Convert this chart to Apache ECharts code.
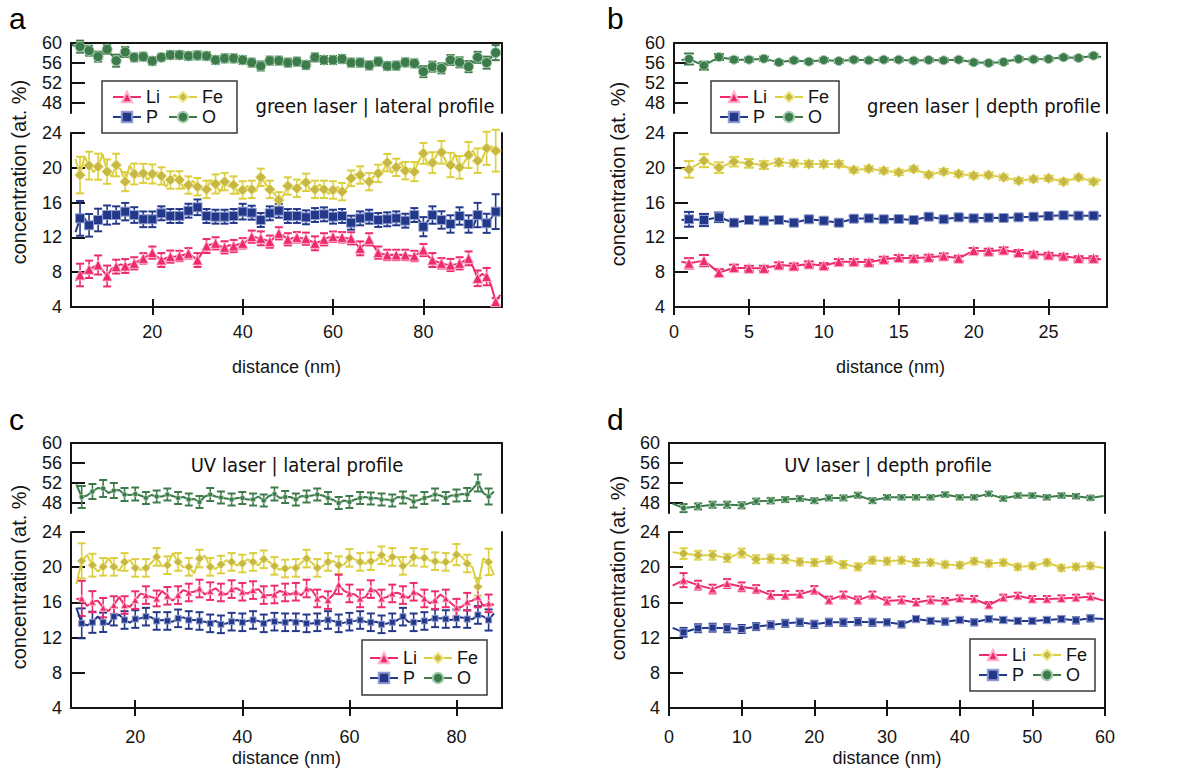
<!DOCTYPE html>
<html><head><meta charset="utf-8">
<script src="https://cdn.jsdelivr.net/npm/echarts@6/dist/echarts.min.js"></script>
<style>html,body{margin:0;padding:0;background:#fff}#c{width:1189px;height:768px}</style>
</head><body><div id="c"></div>
<script>
// ---------------- DATA ----------------
// tick labels
const yTopTicks = [48, 52, 56, 60];
const yBotTicks = [4, 8, 12, 16, 20, 24];
const aXTicks = [20, 40, 60, 80];
const bXTicks = [0, 5, 10, 15, 20, 25];
const cXTicks = [20, 40, 60, 80];
const dXTicks = [0, 10, 20, 30, 40, 50, 60];

// Panel a: green laser | lateral profile (markers every 2 nm)
const aX = [4,6,8,10,12,14,16,18,20,22,24,26,28,30,32,34,36,38,40,42,44,46,48,50,52,54,56,58,60,62,64,66,68,70,72,74,76,78,80,82,84,86,88,90,92,94,96];
const aLi = [7.68,8.33,8.83,7.56,8.64,8.71,9.02,9.59,10.25,9.40,9.79,9.86,10.17,9.40,11.01,11.32,10.86,11.01,11.32,12.08,11.89,11.51,12.47,11.78,12.01,11.85,11.32,11.78,12.08,12.01,11.89,10.74,11.78,10.25,9.98,9.98,9.98,9.86,10.55,9.40,9.02,8.83,9.02,9.59,7.30,7.49,4.61];
const aLiErr = [1.3,1.0,1.1,1.2,0.8,0.8,0.7,0.6,0.7,0.8,0.7,0.6,0.6,0.8,0.8,0.7,0.7,0.7,0.6,0.7,0.8,0.7,0.7,0.7,0.6,0.7,0.8,0.7,0.6,0.6,0.7,0.8,0.7,0.7,0.6,0.6,0.6,0.6,0.7,0.8,0.6,0.7,0.7,0.8,0.9,1.0,0.4];
const aFe = [19.17,20.25,20.13,19.56,20.32,18.41,19.29,19.36,19.29,19.06,18.60,18.60,18.02,17.83,17.52,18.14,18.41,18.02,17.45,17.52,18.90,17.52,16.30,17.91,17.64,18.33,17.52,17.52,17.45,17.26,18.79,19.17,18.41,19.36,20.59,20.05,19.67,19.56,21.66,20.59,21.78,20.32,20.05,21.47,20.82,22.24,21.97];
const aFeErr = [2.1,1.6,1.5,1.4,1.3,1.1,1.2,1.1,1.1,1.0,1.0,1.0,1.0,1.0,1.0,1.1,1.0,1.0,1.0,1.0,1.0,1.0,0.9,1.0,1.0,1.0,1.0,1.0,1.0,1.0,0.9,1.0,1.0,1.0,1.0,1.0,1.0,1.1,1.2,1.2,1.3,1.4,1.3,1.5,1.4,1.9,2.4];
const aP = [14.19,13.39,14.00,14.57,14.57,14.96,14.57,14.08,14.08,14.77,14.46,14.46,15.07,15.46,14.46,14.38,14.38,14.46,14.96,14.84,14.00,14.77,15.07,14.46,14.46,14.31,14.57,14.65,14.38,14.46,13.69,14.19,14.38,14.00,14.08,14.19,13.92,14.57,13.23,14.57,14.00,13.54,14.46,13.54,14.57,13.62,14.96];
const aPErr = [2.0,1.3,1.3,1.1,1.0,1.0,0.9,0.9,0.9,0.8,0.8,0.8,0.8,0.9,0.8,0.8,0.8,0.8,0.9,0.8,0.8,0.8,0.8,0.8,0.8,0.8,0.8,0.8,0.8,0.8,0.8,0.8,0.8,0.8,0.8,0.8,0.8,0.8,1.1,1.0,1.0,1.0,1.0,1.0,1.4,1.1,2.0];
const aO = [59.27,58.47,57.27,58.73,56.47,58.20,57.13,57.27,56.40,57.13,57.60,57.60,57.40,57.53,57.40,56.60,56.93,56.93,56.60,56.07,55.40,56.47,56.47,56.07,56.27,55.60,57.13,56.60,56.60,56.80,56.07,56.07,55.53,56.27,55.40,55.47,56.13,55.93,54.27,55.27,54.93,56.60,56.13,55.27,57.13,56.07,58.07];
const aOErr = [1.2,1.0,1.0,0.9,1.2,1.0,0.8,0.8,0.8,0.7,0.8,0.8,0.8,0.8,0.8,0.8,0.8,0.8,0.8,0.8,0.9,0.8,0.8,0.8,0.8,0.8,0.8,0.8,0.8,0.8,0.8,0.8,0.8,0.8,0.8,0.8,0.8,0.8,1.1,1.0,1.0,1.0,1.0,1.1,1.1,1.2,1.5];
// panel a: points between markers (no symbol)
const aXo = [3,5,7,9,11,13,15,17,19,21,23,25,27,29,31,33,35,37,39,41,43,45,47,49,51,53,55,57,59,61,63,65,67,69,71,73,75,77,79,81,83,85,87,89,91,93,95,97];
const aLiOdd = [7.0,8.0,8.6,8.2,8.4,8.9,8.9,9.3,9.9,9.8,9.6,9.8,10.0,9.8,10.2,11.2,11.0,11.1,11.2,11.6,12.0,11.7,12.0,12.2,11.9,11.9,11.6,11.5,12.0,12.0,11.9,11.3,11.2,11.0,10.1,10.0,10.0,9.9,10.2,9.9,9.2,8.9,8.9,9.3,8.6,7.8,6.5,5.4];
const aFeOdd = [21.0,21.3,19.5,21.6,19.0,19.8,20.3,19.0,18.6,19.5,17.8,19.2,17.6,18.5,17.5,18.6,17.2,17.8,17.0,17.9,17.3,18.2,17.0,16.8,17.6,18.3,17.4,18.1,17.0,17.8,17.6,19.3,18.4,19.0,19.6,19.4,20.6,19.9,20.8,20.3,21.5,20.7,21.6,20.6,22.0,21.0,22.5,21.7];
const aPOdd = [12.6,14.2,13.6,14.6,14.3,14.6,14.7,14.1,14.3,14.3,14.6,14.4,14.8,15.2,14.9,14.3,14.5,14.4,14.7,14.9,14.4,14.5,14.9,14.7,14.4,14.4,14.5,14.6,14.5,14.4,14.2,13.9,14.3,14.2,14.0,14.1,14.0,14.2,14.0,13.9,14.3,13.8,14.0,14.0,13.2,14.0,14.2,15.0];
const aOXo = [2.2];
const aOOdd = [59.6];

// Panel b: green laser | depth profile (markers every 1 nm)
const bX = [1,2,3,4,5,6,7,8,9,10,11,12,13,14,15,16,17,18,19,20,21,22,23,24,25,26,27,28];
const bLi = [9.02,9.33,7.95,8.52,8.44,8.44,8.83,8.71,8.94,8.75,9.21,9.21,9.13,9.48,9.67,9.59,9.71,9.86,9.59,10.48,10.40,10.55,10.25,10.09,9.98,9.86,9.59,9.59];
const bLiErr = [0.6,0.65,0.4,0.35,0.3,0.3,0.3,0.3,0.3,0.3,0.3,0.3,0.3,0.3,0.3,0.3,0.3,0.3,0.3,0.3,0.3,0.3,0.3,0.25,0.25,0.25,0.25,0.25];
const bFe = [19.82,20.82,20.02,20.70,20.51,20.32,20.63,20.51,20.44,20.44,20.44,19.75,19.90,19.67,19.48,19.86,19.21,19.56,19.29,19.10,19.17,18.90,18.52,18.71,18.79,18.41,18.90,18.41];
const bFeErr = [0.95,0.75,0.6,0.55,0.5,0.45,0.4,0.35,0.35,0.35,0.35,0.3,0.3,0.3,0.3,0.3,0.3,0.3,0.3,0.3,0.3,0.3,0.3,0.3,0.3,0.3,0.3,0.3];
const bP = [14.08,14.00,14.31,13.69,14.00,13.92,14.00,13.69,14.08,13.92,13.69,14.15,14.19,14.08,14.11,14.00,14.38,14.08,14.31,14.19,14.27,14.23,14.31,14.38,14.46,14.54,14.50,14.50];
const bPErr = [0.85,0.7,0.55,0.35,0.3,0.3,0.3,0.3,0.3,0.3,0.3,0.3,0.25,0.25,0.25,0.25,0.25,0.25,0.25,0.25,0.25,0.25,0.25,0.25,0.25,0.25,0.25,0.25];
const bO = [56.80,55.47,57.20,56.67,56.67,56.87,56.13,56.53,56.27,56.60,56.40,56.67,56.53,56.67,56.67,56.47,56.60,56.53,56.67,56.13,56.00,56.20,56.80,56.73,56.80,57.13,57.00,57.47];
const bOErr = [1.1,0.8,0.6,0.4,0.4,0.4,0.35,0.35,0.35,0.35,0.35,0.35,0.35,0.35,0.35,0.35,0.35,0.35,0.35,0.35,0.35,0.35,0.35,0.35,0.35,0.35,0.35,0.35];
const bXe = [0.5, 28.5];
const bLiEnds = [9.2, 9.5];
const bFeEnds = [19.9, 18.6];
const bPEnds = [14.0, 14.5];
const bOEnds = [56.6, 57.2];

// Panel c: UV laser | lateral profile (markers every 2 nm)
const cX = [10,12,14,16,18,20,22,24,26,28,30,32,34,36,38,40,42,44,46,48,50,52,54,56,58,60,62,64,66,68,70,72,74,76,78,80,82,84,86];
const cLi = [16.45,16.08,15.40,15.70,15.70,16.26,16.83,16.45,16.75,16.83,17.13,17.58,17.28,17.13,17.51,17.21,17.40,16.83,16.90,17.13,17.21,17.58,16.45,16.26,18.04,17.02,16.45,17.51,16.45,17.02,16.83,17.21,16.45,16.26,16.45,15.40,16.08,16.64,15.89];
const cLiErr = [2.0,1.2,1.1,1.0,1.0,1.0,1.0,0.9,1.0,1.0,1.0,1.0,1.0,1.0,1.0,1.0,1.0,1.0,1.0,1.0,1.0,1.0,1.0,1.0,1.1,1.0,1.0,1.0,1.0,1.0,1.0,1.0,1.0,1.0,1.0,1.0,1.0,1.2,1.0];
const cFe = [20.72,20.23,20.04,20.04,20.60,19.92,19.92,21.17,20.23,20.60,20.04,20.98,20.04,20.30,20.60,20.42,20.60,20.90,20.15,19.85,19.92,20.98,19.92,20.60,20.23,21.06,20.60,20.68,21.36,21.17,20.15,21.17,21.06,20.68,20.60,21.43,20.42,17.77,20.60];
const cFeErr = [2.0,1.3,1.0,1.0,1.0,1.0,1.0,1.0,1.0,1.0,1.0,1.0,1.0,1.0,1.0,1.0,1.0,1.0,1.0,1.0,1.0,1.0,1.0,1.0,1.0,1.0,1.0,1.0,1.0,1.0,1.0,1.0,1.0,1.0,1.0,1.2,1.0,1.0,1.5];
const cP = [13.62,13.74,13.74,14.38,14.00,14.11,14.38,13.89,13.89,14.19,14.00,13.89,13.62,13.51,13.81,13.74,14.00,13.62,13.81,13.74,13.74,13.62,13.74,14.00,13.62,13.81,14.00,13.74,13.51,13.74,14.38,13.74,13.89,14.19,14.11,14.19,14.11,14.57,14.00];
const cPErr = [1.7,1.2,1.1,1.0,1.0,1.0,1.0,1.0,1.0,1.0,1.0,1.0,1.0,1.0,1.0,1.0,1.0,1.0,1.0,1.0,1.0,1.0,1.0,1.0,1.0,1.0,1.0,1.0,1.0,1.0,1.0,1.0,1.0,1.0,1.0,1.0,1.0,1.0,1.2];
const cO = [49.2,50.3,50.9,50.5,49.7,49.8,49.0,49.3,49.7,49.0,48.7,48.2,49.7,49.1,48.7,49.0,48.7,48.5,49.8,49.2,48.7,49.3,49.7,49.0,48.0,48.2,49.0,48.9,48.7,48.5,49.1,48.3,49.0,49.7,49.0,49.5,49.7,52.0,49.3];
const cOErr = [2.2,1.5,1.7,1.5,1.3,1.3,1.2,1.2,1.2,1.2,1.2,1.2,1.3,1.2,1.2,1.2,1.2,1.2,1.3,1.2,1.2,1.2,1.2,1.2,1.2,1.2,1.2,1.2,1.2,1.2,1.2,1.2,1.2,1.2,1.2,1.2,1.3,1.7,1.6];
const cXo = [9,11,13,15,17,19,21,23,25,27,29,31,33,35,37,39,41,43,45,47,49,51,53,55,57,59,61,63,65,67,69,71,73,75,77,79,81,83,85,87];
const cLiOdd = [16.4,15.6,16.2,15.0,16.6,15.5,17.0,16.6,17.3,16.2,17.4,17.2,16.9,17.6,16.9,17.6,17.0,17.5,16.8,17.3,16.9,16.8,17.4,16.7,16.9,17.3,16.9,16.6,17.3,16.6,17.1,16.5,16.9,15.9,16.9,15.9,15.5,16.2,15.6,15.7];
const cFeOdd = [18.1,21.4,19.5,21.0,19.6,20.8,19.7,20.5,20.1,21.6,20.0,19.3,21.3,19.8,20.8,20.2,20.9,20.2,20.6,19.7,20.0,20.5,20.5,20.1,20.7,20.3,20.9,20.4,20.8,20.6,21.2,20.4,21.0,20.8,20.5,20.6,21.2,20.0,21.0,19.1];
const cPOdd = [15.4,13.4,14.4,13.5,14.6,13.7,14.2,14.3,14.0,13.8,14.3,14.0,13.8,13.9,13.6,14.0,13.9,13.9,14.0,13.7,14.0,13.9,13.6,13.9,13.9,13.7,13.9,13.8,13.8,13.6,14.0,13.8,13.9,14.0,14.2,14.0,14.3,14.1,14.4,14.75];
const cOOdd = [51.7,49.5,51.0,50.0,50.6,49.6,49.5,49.6,49.3,49.4,49.2,48.8,49.3,49.3,48.9,49.0,48.7,49.3,49.4,49.0,49.2,49.4,49.5,49.5,48.6,48.5,48.7,49.2,49.0,48.7,49.2,48.9,48.6,49.3,49.5,49.5,49.8,50.8,50.0,50.3];

// Panel d: UV laser | depth profile (markers every 2 nm)
const dX = [2,4,6,8,10,12,14,16,18,20,22,24,26,28,30,32,34,36,38,40,42,44,46,48,50,52,54,56,58];
const dLi = [18.53,17.96,17.51,18.15,17.77,17.51,16.83,16.83,16.91,17.40,16.26,16.83,16.26,16.83,16.15,16.26,16.00,16.26,16.15,16.45,16.38,15.70,16.53,16.75,16.38,16.38,16.45,16.53,16.64];
const dLiErr = [0.8,0.5,0.5,0.5,0.5,0.45,0.45,0.45,0.4,0.45,0.4,0.4,0.4,0.4,0.4,0.4,0.4,0.4,0.35,0.35,0.35,0.35,0.35,0.35,0.35,0.35,0.35,0.35,0.35];
const dFe = [21.55,21.36,21.36,21.06,21.62,20.91,20.98,20.91,20.60,20.53,20.79,20.30,20.04,20.79,20.68,20.79,20.53,20.53,20.30,20.23,20.68,20.42,20.53,20.04,20.15,20.53,19.92,20.04,20.15];
const dFeErr = [0.6,0.5,0.5,0.45,0.5,0.45,0.45,0.45,0.4,0.4,0.4,0.4,0.4,0.4,0.4,0.4,0.4,0.35,0.35,0.35,0.35,0.35,0.35,0.35,0.35,0.35,0.35,0.35,0.35];
const dP = [12.60,13.06,13.13,13.06,12.98,13.25,13.43,13.62,13.74,13.51,13.74,13.74,13.81,13.74,13.74,13.51,14.11,13.89,13.81,14.00,13.74,14.11,14.00,13.89,13.89,14.00,14.11,13.96,14.19];
const dPErr = [0.5,0.45,0.45,0.45,0.45,0.4,0.4,0.4,0.4,0.4,0.4,0.4,0.4,0.4,0.35,0.35,0.35,0.35,0.35,0.35,0.35,0.35,0.35,0.35,0.35,0.35,0.35,0.35,0.35];
const dO = [46.98,47.32,47.66,47.66,47.53,48.34,48.47,48.68,48.88,48.47,49.02,49.02,49.56,48.47,49.15,49.15,49.15,49.15,49.69,49.15,49.15,49.83,48.88,49.49,49.49,49.15,49.49,49.36,49.02];
const dOErr = [0.8,0.6,0.6,0.6,0.6,0.55,0.55,0.5,0.5,0.5,0.5,0.5,0.5,0.5,0.45,0.45,0.45,0.45,0.45,0.45,0.45,0.45,0.45,0.45,0.45,0.45,0.45,0.45,0.45];
const dXe = [0.5, 59.8];
const dLiEnds = [17.9, 16.2];
const dFeEnds = [21.7, 19.9];
const dPEnds = [13.1, 14.1];
const dOEnds = [47.9, 49.4];

// ---------------- STYLE / LAYOUT ----------------
const FONT = '"Liberation Sans", Arial, sans-serif';
const TFONT = '"Liberation Sans Narrow", "DejaVu Sans Condensed", "Liberation Sans", sans-serif';
const AX = '#141414';
const STY = {
  Li: {line: '#ee2b6c', fill: '#ee2b6c', border: '#ffb2c8', symbol: 'triangle'},
  Fe: {line: '#dccf3c', fill: '#c7b744', border: '#f0e98e', symbol: 'diamond'},
  P:  {line: '#24388a', fill: '#24388a', border: '#8e9cd2', symbol: 'rect'},
  O:  {line: '#3e7b4b', fill: '#3e7b4b', border: '#a3cbad', symbol: 'circle'}
};

const panels = [
  {left: 71, width: 431, topT: 43, hT: 70, topB: 133, hB: 174, xMin: 2, xMax: 97.4, ticks: aXTicks,
   lblMargin: 16, nameGap: 51, cap: 4, sym: {Li: 10, Fe: 11, P: 9, O: 10},
   data: {Li: [aX, aLi, aLiErr, aXo, aLiOdd], Fe: [aX, aFe, aFeErr, aXo, aFeOdd], P: [aX, aP, aPErr, aXo, aPOdd], O: [aX, aO, aOErr, aOXo, aOOdd]}},
  {left: 674, width: 433, topT: 43, hT: 70, topB: 133, hB: 174, xMin: 0, xMax: 28.9, ticks: bXTicks,
   lblMargin: 16, nameGap: 51, cap: 5, sym: {Li: 10, Fe: 11, P: 9, O: 9},
   data: {Li: [bX, bLi, bLiErr, bXe, bLiEnds], Fe: [bX, bFe, bFeErr, bXe, bFeEnds], P: [bX, bP, bPErr, bXe, bPEnds], O: [bX, bO, bOErr, bXe, bOEnds]}},
  {left: 71, width: 431, topT: 443, hT: 70, topB: 532, hB: 176, xMin: 8, xMax: 88.5, ticks: cXTicks,
   lblMargin: 20, nameGap: 41, cap: 4, sym: {Li: 7, Fe: 9, P: 6, O: 5},
   data: {Li: [cX, cLi, cLiErr, cXo, cLiOdd], Fe: [cX, cFe, cFeErr, cXo, cFeOdd], P: [cX, cP, cPErr, cXo, cPOdd], O: [cX, cO, cOErr, cXo, cOOdd]}},
  {left: 669, width: 436, topT: 443, hT: 70, topB: 532, hB: 176, xMin: 0, xMax: 60, ticks: dXTicks,
   lblMargin: 20, nameGap: 41, cap: 4, sym: {Li: 8, Fe: 10, P: 7, O: 6},
   data: {Li: [dX, dLi, dLiErr, dXe, dLiEnds], Fe: [dX, dFe, dFeErr, dXe, dFeEnds], P: [dX, dP, dPErr, dXe, dPEnds], O: [dX, dO, dOErr, dXe, dOEnds]}}
];

function lineData(xm, ym, xo, yo) {
  const pts = xm.map((x, i) => ({value: [x, ym[i]]}));
  xo.forEach((x, i) => pts.push({value: [x, yo[i]], symbol: 'none'}));
  pts.sort((p, q) => p.value[0] - q.value[0]);
  return pts;
}
function errBar(color, cap) {
  return function (params, api) {
    const x = api.value(0), y = api.value(1), e = api.value(2);
    const lo = api.coord([x, y - e]), hi = api.coord([x, y + e]);
    return {type: 'group', children: [
      {type: 'line', shape: {x1: lo[0], y1: lo[1], x2: hi[0], y2: hi[1]}, style: {stroke: color, lineWidth: 1.6}},
      {type: 'line', shape: {x1: lo[0] - cap, y1: lo[1], x2: lo[0] + cap, y2: lo[1]}, style: {stroke: color, lineWidth: 2}},
      {type: 'line', shape: {x1: hi[0] - cap, y1: hi[1], x2: hi[0] + cap, y2: hi[1]}, style: {stroke: color, lineWidth: 2}}
    ]};
  };
}

const lineSt = {color: AX, width: 2};
const grids = [], xAxes = [], yAxes = [], series = [];
panels.forEach((p, k) => {
  grids.push({left: p.left, top: p.topT, width: p.width, height: p.hT, show: false});
  grids.push({left: p.left, top: p.topB, width: p.width, height: p.hB, show: false});
  xAxes.push({gridIndex: 2 * k, type: 'value', min: p.xMin, max: p.xMax, position: 'top',
    axisLine: {show: true, onZero: false, lineStyle: lineSt}, axisTick: {show: false}, axisLabel: {show: false}, splitLine: {show: false}});
  xAxes.push({gridIndex: 2 * k + 1, type: 'value', min: p.xMin, max: p.xMax, position: 'bottom',
    axisLine: {show: true, onZero: false, lineStyle: lineSt},
    axisTick: {show: true, inside: true, length: 8, lineStyle: lineSt, customValues: p.ticks},
    axisLabel: {customValues: p.ticks, margin: p.lblMargin, fontSize: 18, color: AX, fontFamily: FONT},
    splitLine: {show: false},
    name: 'distance (nm)', nameLocation: 'middle', nameGap: p.nameGap,
    nameTextStyle: {fontSize: 18, color: AX, fontFamily: FONT}});
  xAxes.push({gridIndex: 2 * k + 1, type: 'value', min: p.xMin, max: p.xMax, position: 'bottom',
    axisLine: {show: false, onZero: false},
    axisTick: {show: true, inside: false, length: 8, lineStyle: lineSt, customValues: p.ticks},
    axisLabel: {show: false}, splitLine: {show: false}});
  const yCommon = (grid, min, max, ticks, pos, show) => ({gridIndex: grid, type: 'value', min: min, max: max, position: pos,
    axisLine: {show: true, onZero: false, lineStyle: lineSt},
    axisTick: show ? {show: true, inside: true, length: 14, lineStyle: lineSt, customValues: ticks} : {show: false},
    axisLabel: show ? {customValues: ticks, margin: 9, fontSize: 18, color: AX, fontFamily: FONT} : {show: false},
    splitLine: {show: false}});
  yAxes.push(yCommon(2 * k, 46, 60, yTopTicks, 'left', true));
  yAxes.push(yCommon(2 * k, 46, 60, yTopTicks, 'right', false));
  yAxes.push(yCommon(2 * k + 1, 4, 24, yBotTicks, 'left', true));
  yAxes.push(yCommon(2 * k + 1, 4, 24, yBotTicks, 'right', false));

  ['O', 'Fe', 'P', 'Li'].forEach(name => {
    const d = p.data[name];
    const top = name === 'O';
    const xi = top ? 3 * k : 3 * k + 1, yi = top ? 4 * k : 4 * k + 2;
    const s = STY[name];
    series.push({type: 'custom', xAxisIndex: xi, yAxisIndex: yi, silent: true, z: 2,
      data: d[0].map((x, i) => [x, d[1][i], d[2][i]]), encode: {x: 0, y: 1},
      renderItem: errBar(s.line, p.cap)});
    series.push({type: 'line', name: name, xAxisIndex: xi, yAxisIndex: yi, z: 3,
      data: lineData(d[0], d[1], d[3], d[4]), symbol: s.symbol, symbolSize: p.sym[name], showAllSymbol: true,
      lineStyle: {color: s.line, width: 2}, itemStyle: {color: s.fill, borderColor: s.border, borderWidth: 1},
      emphasis: {disabled: true}});
  });
});

// legends (two columns each), positions per panel
const legPos = [
  {c1: 112, c2: 168, top: 88, box: [102, 81, 135, 52]},
  {c1: 719, c2: 774, top: 88, box: [711, 81, 128, 52]},
  {c1: 369, c2: 423, top: 649, box: [362, 640, 125, 55]},
  {c1: 978, c2: 1032, top: 646, box: [970, 639, 125, 52]}
];
const legends = [];
const graphics = [];
legPos.forEach(l => {
  [[['Li', 'P'], l.c1], [['Fe', 'O'], l.c2]].forEach(([names, left]) => {
    legends.push({data: names, orient: 'vertical', left: left, top: l.top, padding: 0, itemGap: 2,
      itemWidth: 28, itemHeight: 13, selectedMode: false,
      textStyle: {fontSize: 18, lineHeight: 18, color: AX, fontFamily: FONT}});
  });
  graphics.push({type: 'rect', shape: {x: l.box[0], y: l.box[1], width: l.box[2], height: l.box[3]},
    style: {fill: 'none', stroke: '#3a3a3a', lineWidth: 1.5}, z: 10});
});

// texts
const panelLetters = [['a', 9, 33], ['b', 607, 33], ['c', 9, 434], ['d', 607, 434]];
panelLetters.forEach(([t, x, y]) => graphics.push({type: 'text', x: x, y: y, z: 10,
  style: {text: t, font: '30px ' + FONT, fill: '#000', align: 'left', verticalAlign: 'bottom'}}));
const panelTitles = [['green laser | lateral profile', 375, 106], ['green laser | depth profile', 984, 106],
                     ['UV laser | lateral profile', 297, 465], ['UV laser | depth profile', 888, 465]];
panelTitles.forEach(([t, x, y]) => graphics.push({type: 'text', x: x, y: y, z: 10,
  style: {text: t, font: '20px ' + TFONT, fill: '#111', align: 'center', verticalAlign: 'middle'}}));
const yNames = [[19, 172], [618, 174], [19, 577], [618, 568]];
yNames.forEach(([x, y]) => graphics.push({type: 'text', x: x, y: y, rotation: Math.PI / 2, z: 10,
  style: {text: 'concentration (at. %)', font: '20px ' + FONT, fill: AX, align: 'center', verticalAlign: 'middle'}}));

const chart = echarts.init(document.getElementById('c'), null, {renderer: 'svg'});
chart.setOption({
  animation: false,
  backgroundColor: '#fff',
  grid: grids, xAxis: xAxes, yAxis: yAxes,
  legend: legends,
  graphic: graphics,
  series: series
});
</script>
</body></html>
